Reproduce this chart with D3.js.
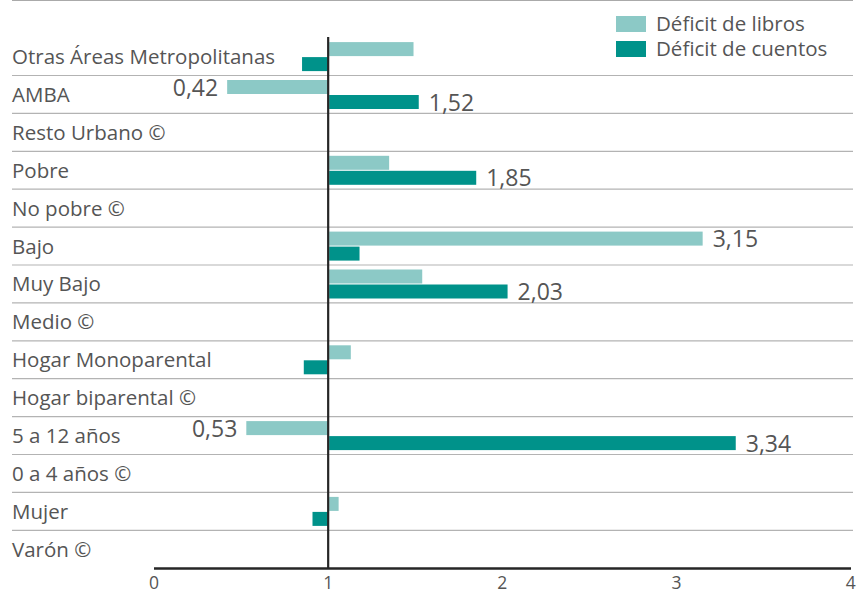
<!DOCTYPE html>
<html lang="es">
<head>
	<meta charset="UTF-8">
	<script src="https://d3js.org/d3.v7.min.js"></script>
	<title>Déficit de libros y cuentos</title>
	<style>
		body {
			margin: 0;
			background: #fff;
		}
		svg text {
			font-family: "Open Sans", "Noto Sans", sans-serif;
			fill: #555;
		}
	</style>
</head>
<body>
	<svg width="857" height="593"></svg>

	<script>
		const categories = ['Otras Áreas Metropolitanas', 'AMBA', 'Resto Urbano ©', 'Pobre', 'No pobre ©',
			'Bajo', 'Muy Bajo', 'Medio ©', 'Hogar Monoparental', 'Hogar biparental ©',
			'5 a 12 años', '0 a 4 años ©', 'Mujer', 'Varón ©'];
		// null = categoría de referencia (sin barra)
		const libros = [1.49, 0.42, null, 1.35, null, 3.15, 1.54, null, 1.13, null, 0.53, null, 1.06, null];
		const cuentos = [0.85, 1.52, null, 1.85, null, 1.18, 2.03, null, 0.86, null, 3.34, null, 0.91, null];
		// which values get a printed label
		const librosLabel = [false, true, false, false, false, true, false, false, false, false, true, false, false, false];
		const cuentosLabel = [false, true, false, true, false, false, true, false, false, false, true, false, false, false];
		const ticks = [0, 1, 2, 3, 4];
		const seriesNames = ['Déficit de libros', 'Déficit de cuentos'];
		const colors = ['#8cc9c6', '#00928a'];

		const svg = d3.select('svg');
		const x = d3.scaleLinear().domain([0, 4]).range([154, 850.7]);
		const y = d3.scaleBand().domain(categories).range([37.6, 568.2]);
		const fmt = v => d3.format('.2f')(v).replace('.', ',');

		// top border
		svg.append('line')
			.attr('x1', 12).attr('x2', 853).attr('y1', 0.5).attr('y2', 0.5)
			.attr('stroke', '#aaa').attr('stroke-width', 1.2);

		// row separators
		svg.append('g')
			.selectAll('line')
			.data(categories.slice(1))
			.enter()
			.append('line')
			.attr('x1', 12).attr('x2', 853)
			.attr('y1', d => y(d)).attr('y2', d => y(d))
			.attr('stroke', '#b3b3b3').attr('stroke-width', 1.2);

		// category labels
		svg.append('g')
			.selectAll('text')
			.data(categories)
			.enter()
			.append('text')
			.attr('x', 12)
			.attr('y', d => y(d) + y.bandwidth() / 2 + 7.5)
			.style('font-size', '20.5px')
			.text(d => d);

		const rows = categories.map((c, i) => ({ c, i }));
		const barH = 14;

		function drawSeries(vals, flags, color, offset) {
			const g = svg.append('g');
			const data = rows.filter(r => vals[r.i] != null);
			g.selectAll('rect')
				.data(data)
				.enter()
				.append('rect')
				.attr('x', r => vals[r.i] >= 1 ? x(1) + 1 : x(vals[r.i]))
				.attr('width', r => vals[r.i] >= 1 ? x(vals[r.i]) - x(1) - 1 : x(1) - x(vals[r.i]))
				.attr('y', r => y(r.c) + offset)
				.attr('height', barH)
				.attr('fill', color);
			g.selectAll('text')
				.data(data.filter(r => flags[r.i]))
				.enter()
				.append('text')
				.attr('x', r => vals[r.i] >= 1 ? x(vals[r.i]) + 10 : x(vals[r.i]) - 9)
				.attr('y', r => y(r.c) + offset + barH / 2 + 8.5)
				.attr('text-anchor', r => vals[r.i] >= 1 ? 'start' : 'end')
				.style('font-size', '23px')
				.text(r => fmt(vals[r.i]));
		}
		drawSeries(libros, librosLabel, colors[0], 4.5);
		drawSeries(cuentos, cuentosLabel, colors[1], 19.5);

		// reference line at 1
		svg.append('line')
			.attr('x1', x(1)).attr('x2', x(1))
			.attr('y1', 37).attr('y2', 569)
			.attr('stroke', '#262626').attr('stroke-width', 2.2);

		// x axis
		svg.append('line')
			.attr('x1', x(0)).attr('x2', 851).attr('y1', 568.5).attr('y2', 568.5)
			.attr('stroke', '#262626').attr('stroke-width', 2.4);
		svg.append('g')
			.selectAll('text')
			.data(ticks)
			.enter()
			.append('text')
			.attr('x', d => x(d))
			.attr('y', 589)
			.attr('text-anchor', 'middle')
			.style('font-size', '17.5px')
			.text(d => d);

		// legend
		const legend = svg.append('g').attr('transform', 'translate(616,16)');
		seriesNames.forEach((name, i) => {
			legend.append('rect')
				.attr('x', 0).attr('y', i * 25)
				.attr('width', 30).attr('height', 16)
				.attr('fill', colors[i]);
			legend.append('text')
				.attr('x', 40).attr('y', i * 25 + 14.5)
				.style('font-size', '20.5px')
				.text(name);
		});
	</script>
</body>
</html>
